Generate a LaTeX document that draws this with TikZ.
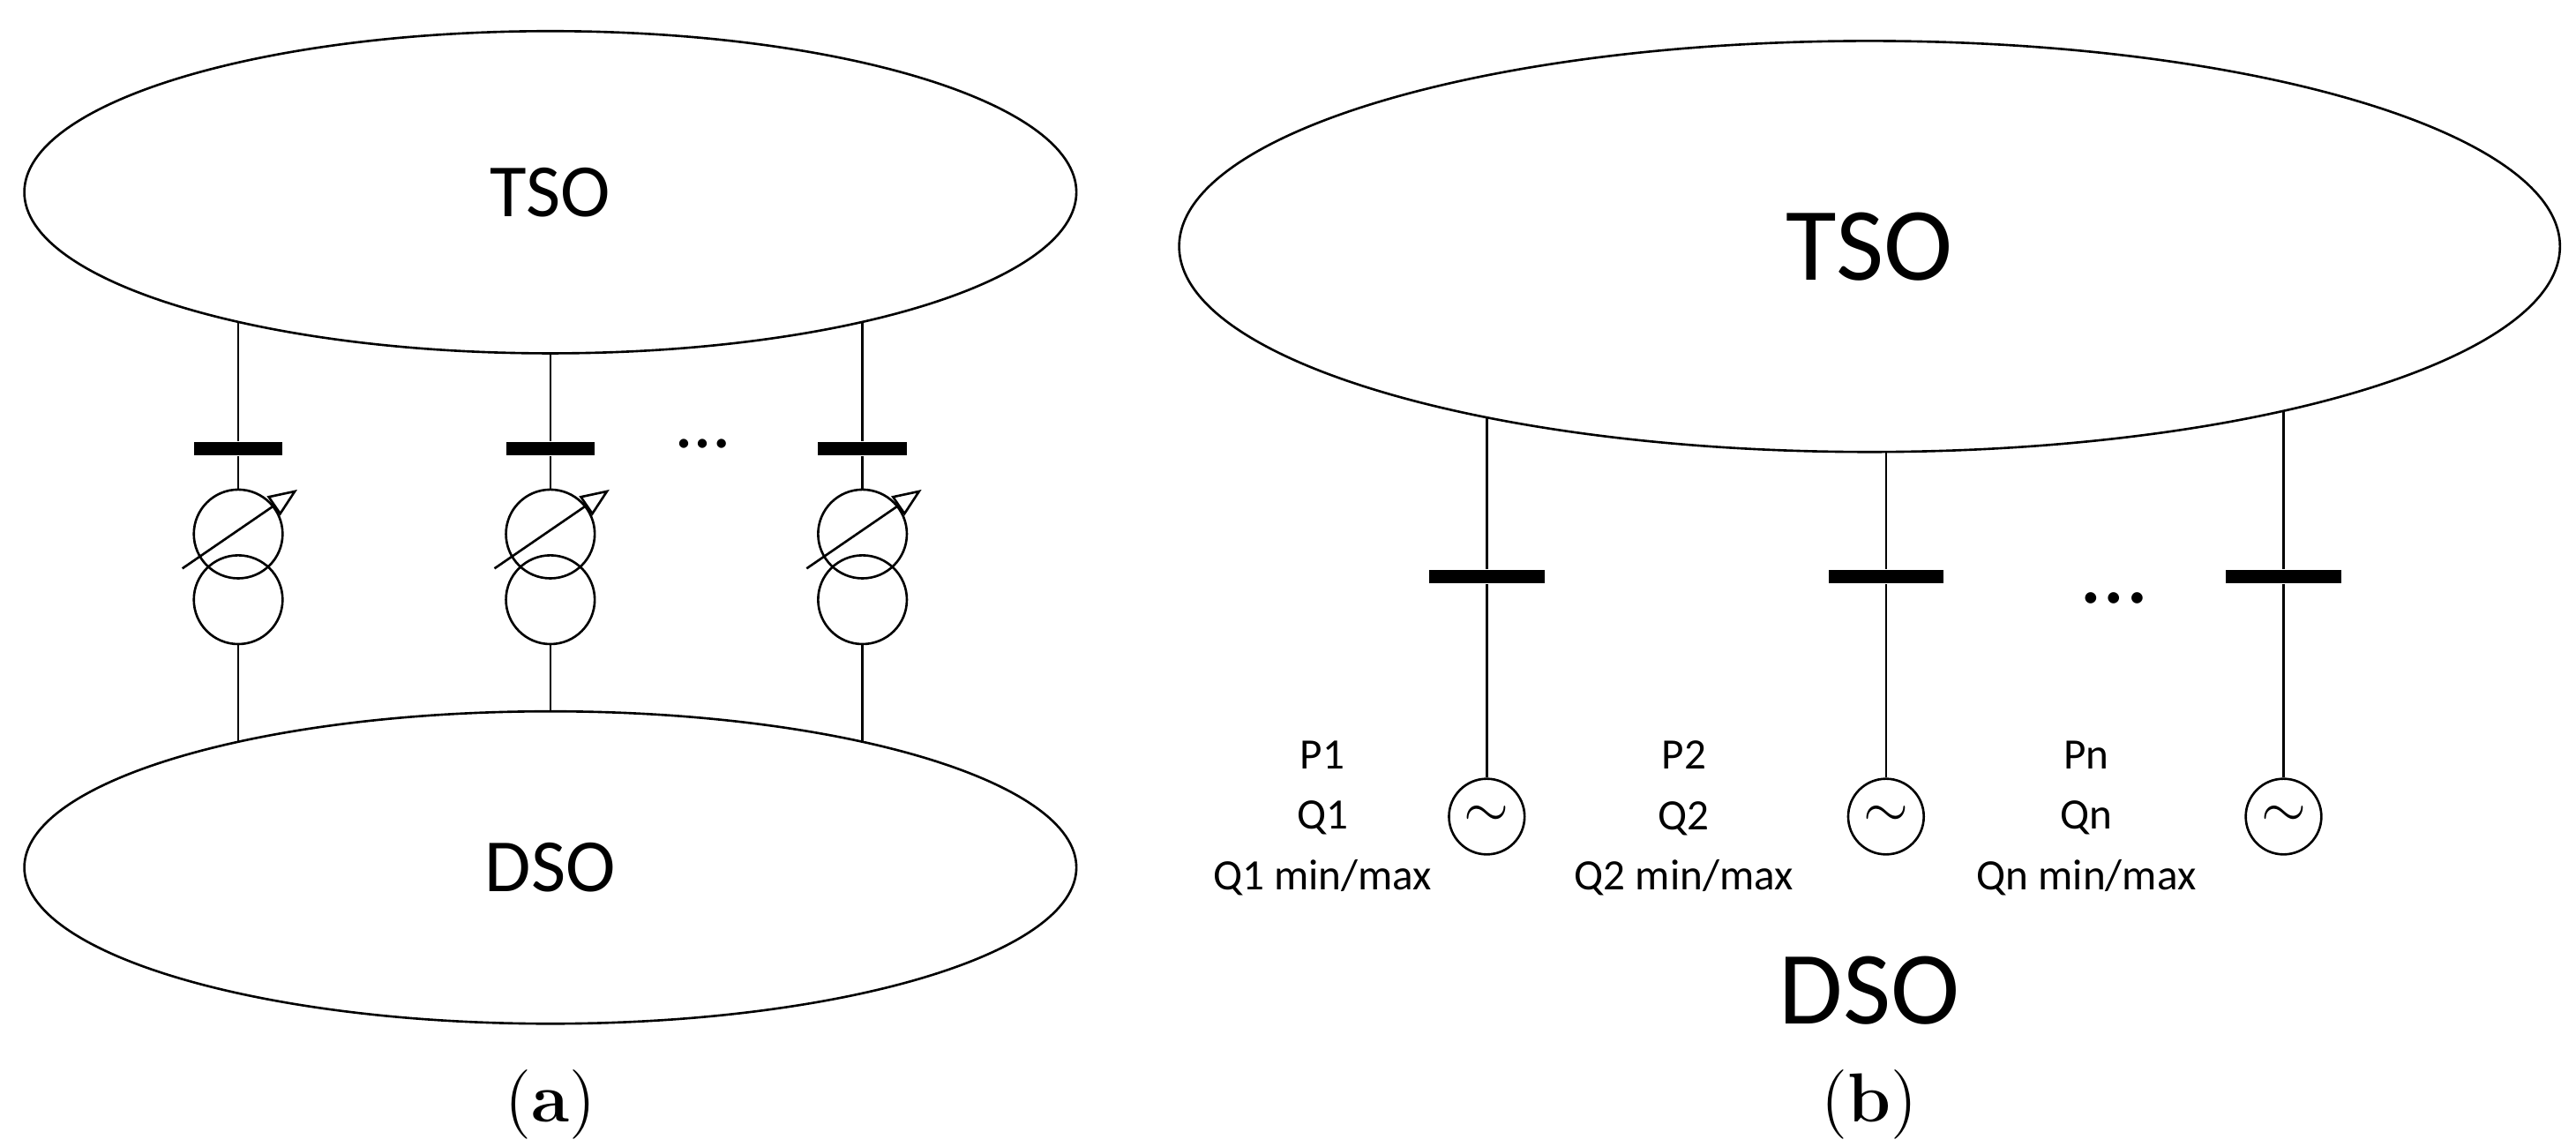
\documentclass[tikz,border=0pt]{standalone}
\usepackage{fontspec}
\setmainfont{Carlito}
\usetikzlibrary{shapes.geometric,arrows.meta}
\newfontfamily\capfont{Latin Modern Roman}

\tikzset{
  net/.style={draw, ellipse, inner sep=0pt},
  bus/.style={fill=black, inner sep=0pt, minimum height=8pt*0.01/0.0353},
  wind/.style={draw, circle, inner sep=0pt, minimum size=0.54cm},
  gen/.style={draw, circle, inner sep=0pt, minimum size=0.46cm},
  vals/.style={align=center, font=\fontsize{7.5}{10.5}\selectfont},
}

\begin{document}
\begin{tikzpicture}[x=0.01cm, y=-0.01cm, line width=0.4pt]
\useasboundingbox (0,0) rectangle (1568,698);

% (a)
\node[net, minimum width=6.4cm, minimum height=1.96cm, font=\fontsize{13}{15}\selectfont] (tsoa) at (335,117) {TSO};
\node[net, minimum width=6.4cm, minimum height=1.9cm, font=\fontsize{13}{15}\selectfont] (dsoa) at (335,528) {DSO};
\foreach \i/\x/\dy in {1/145/196, 2/335/215, 3/525/196} {
  \coordinate (ta-\i) at (\x,\dy);
  \coordinate (da-\i) at (\x,528-\dy+117-95*0.805+95*0.805-98*0.805+98*0.805);
  \node[bus, minimum width=0.54cm] (ba-\i) at (\x,273) {};
  \node[wind] (wu-\i) at (\x,325) {};
  \node[wind] (wl-\i) at (\x,365) {};
  \coordinate (w0-\i) at (\x-34,346);
  \coordinate (w1-\i) at (\x+36,298);
  \draw (ta-\i) -- (ba-\i.north);
  \draw (ba-\i.south) -- (wu-\i.north);
  \draw[-{Triangle[open, length=5pt, width=4pt]}] (w0-\i) -- (w1-\i);
}
\coordinate (da-1) at (145,452);
\coordinate (da-2) at (335,433);
\coordinate (da-3) at (525,452);
\foreach \i in {1,2,3} \draw (wl-\i.south) -- (da-\i);
\node[font=\fontsize{13}{15}\selectfont] (dotsa) at (428,270) {\dots};
\node[font=\capfont\fontsize{12}{14}\selectfont] (capa) at (335,672) {(\textbf{a})};

% (b)
\node[net, minimum width=8.4cm, minimum height=2.5cm, font=\fontsize{18}{20}\selectfont] (tsob) at (1138,150) {TSO};
\node[font=\fontsize{18}{20}\selectfont] (dsob) at (1138,603) {DSO};
\foreach \i/\x/\dy/\tx/\n in {1/905/254/805/1, 2/1148/275/1025/2, 3/1390/250/1270/n} {
  \coordinate (tb-\i) at (\x,\dy);
  \node[bus, minimum width=0.7cm] (bb-\i) at (\x,351) {};
  \node[gen] (g-\i) at (\x,497) {$\sim$};
  \draw (tb-\i) -- (bb-\i.north);
  \draw (bb-\i.south) -- (g-\i.north);
  \node[vals] (v-\i) at (\tx,498) {P\n\\Q\n\\Q\n{} min/max};
}
\node[font=\fontsize{16}{18}\selectfont] (dotsb) at (1287,364) {\dots};
\node[font=\capfont\fontsize{12}{14}\selectfont] (capb) at (1138,672) {(\textbf{b})};
\end{tikzpicture}
\end{document}
